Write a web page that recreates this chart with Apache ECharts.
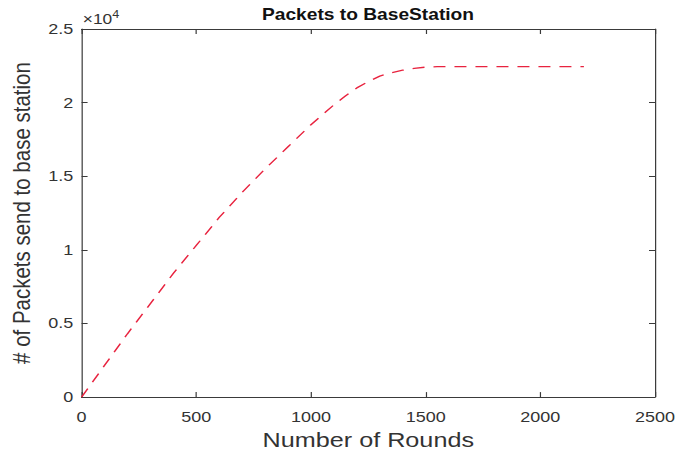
<!DOCTYPE html>
<html>
<head>
<meta charset="utf-8">
<script src="https://cdn.jsdelivr.net/npm/echarts@6/dist/echarts.min.js"></script>
<style>
  html, body { margin: 0; padding: 0; background: #fff; overflow: hidden; }
  #wrap { width: 697px; height: 455px; overflow: hidden; }
  /* the figure is laid out at 581px and widened to the 697px frame */
  #chart { width: 581px; height: 455px; transform: scaleX(1.19966); transform-origin: 0 0; }
</style>
</head>
<body>
<div id="wrap"><div id="chart"></div></div>
<script>
// Number of rounds (x) and cumulative packets delivered to the base station (y)
const rounds  = [0, 100, 200, 300, 400, 500, 600, 700, 800, 900, 1000, 1100, 1150, 1200, 1250, 1300, 1350, 1400, 1450, 1500, 1550, 1600, 2190];
const packets = [0, 2150, 4300, 6350, 8400, 10300, 12200, 13900, 15500, 17000, 18500, 19850, 20450, 21000, 21420, 21800, 22030, 22200, 22330, 22410, 22440, 22450, 22450];

const xTickLabels = ['0', '500', '1000', '1500', '2000', '2500'];
const yTickLabels = ['0', '0.5', '1', '1.5', '2', '2.5'];
const yScaleNote = '\u00d710';
const yScaleExp = '4';

const FONT = '"Liberation Sans", Arial, Helvetica, sans-serif';
const AXIS_COLOR = '#3a3a3a';
const LABEL_COLOR = '#333333';

const gridLeft = 67.5, gridRight = 35, gridTop = 29, gridBottom = 53;
const gridCenterX = gridLeft + (581 - gridLeft - gridRight) / 2;

const boxAxis = {
  axisLine: { show: true, onZero: false, lineStyle: { color: AXIS_COLOR, width: 1 } },
  axisTick: { show: true, inside: true, length: 5, lineStyle: { color: AXIS_COLOR, width: 1 } },
  splitLine: { show: false }
};

const chart = echarts.init(document.getElementById('chart'), null, { renderer: 'svg' });

chart.setOption({
  animation: false,
  backgroundColor: '#ffffff',
  grid: { left: gridLeft, right: gridRight, top: gridTop, bottom: gridBottom, containLabel: false },
  xAxis: [
    Object.assign({
      type: 'value', position: 'bottom', min: 0, max: 2500, interval: 500,
      axisLabel: {
        margin: 12, color: LABEL_COLOR, fontFamily: FONT, fontSize: 15,
        formatter: v => xTickLabels[Math.round(v / 500)]
      },
      name: 'Number of Rounds', nameLocation: 'middle', nameGap: 28,
      nameTextStyle: { color: '#333333', fontFamily: FONT, fontSize: 21 }
    }, boxAxis),
    Object.assign({
      type: 'value', position: 'top', min: 0, max: 2500, interval: 500,
      axisLabel: { show: false }
    }, boxAxis)
  ],
  yAxis: [
    Object.assign({
      type: 'value', position: 'left', min: 0, max: 25000, interval: 5000,
      axisLabel: {
        margin: 7, color: LABEL_COLOR, fontFamily: FONT, fontSize: 15,
        formatter: v => yTickLabels[Math.round(v / 5000)]
      },
      name: '# of Packets send to base station', nameLocation: 'middle', nameGap: 39,
      nameTextStyle: { color: '#333333', fontFamily: FONT, fontSize: 20.5 }
    }, boxAxis),
    Object.assign({
      type: 'value', position: 'right', min: 0, max: 25000, interval: 5000,
      axisLabel: { show: false }
    }, boxAxis)
  ],
  graphic: [
    {
      type: 'text', silent: true,
      style: {
        text: 'Packets to BaseStation', x: gridCenterX, y: 15,
        textAlign: 'center', align: 'center', textVerticalAlign: 'middle', verticalAlign: 'middle',
        fill: '#111111', font: 'bold 16px ' + FONT
      }
    },
    {
      type: 'text', silent: true,
      style: {
        text: yScaleNote, x: 69, y: 19.5,
        textAlign: 'left', align: 'left', textVerticalAlign: 'middle', verticalAlign: 'middle',
        fill: LABEL_COLOR, font: '14.5px ' + FONT
      }
    },
    {
      type: 'text', silent: true,
      style: {
        text: yScaleExp, x: 93.5, y: 14.5,
        textAlign: 'left', align: 'left', textVerticalAlign: 'middle', verticalAlign: 'middle',
        fill: LABEL_COLOR, font: '10.5px ' + FONT
      }
    }
  ],
  series: [{
    type: 'line',
    xAxisIndex: 0, yAxisIndex: 0,
    data: rounds.map((r, i) => [r, packets[i]]),
    showSymbol: false,
    smooth: false,
    lineStyle: { color: '#e8233f', width: 1.3, type: [10, 7.5] }
  }]
});
</script>
</body>
</html>
